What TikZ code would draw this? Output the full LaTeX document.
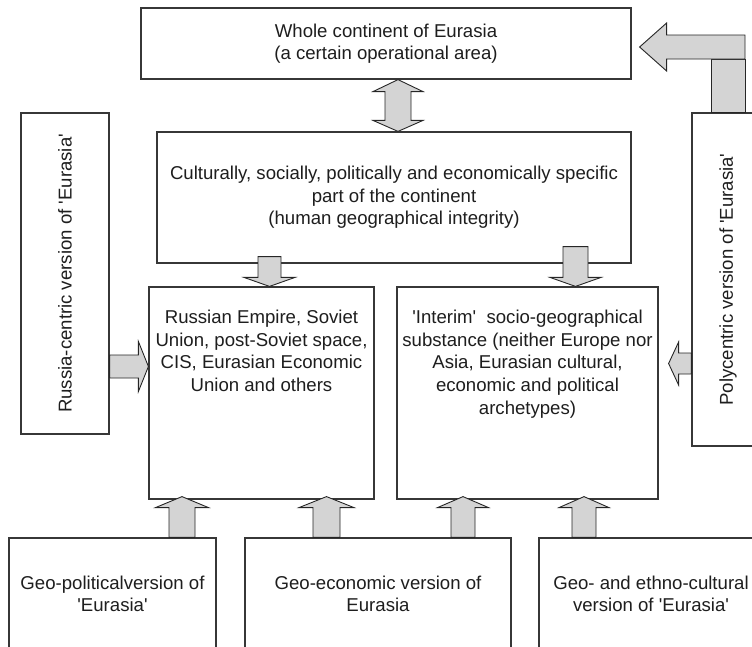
\documentclass[tikz,border=0pt]{standalone}
\usepackage{fontspec}
\setmainfont{Liberation Sans}
\usetikzlibrary{calc}
\definecolor{boxline}{RGB}{55,55,55}
\definecolor{arrfill}{RGB}{212,212,212}
\definecolor{txt}{RGB}{30,30,30}
\newcommand\sq{\textquotesingle}
\tikzset{
  box/.style={draw=boxline, line width=1.2pt, fill=white, rectangle, inner sep=0pt,
    font=\fontsize{18.6}{22.6}\selectfont, text=txt, align=center},
  lbl/.style={font=\fontsize{18.6}{22.6}\selectfont, text=txt, align=center, inner sep=0pt},
  blk/.style={fill=arrfill, draw=black!85, line width=0.9pt, line join=miter},
}
% vertical block arrow: #1 x centre (pt), #2 start anchor, #3 start shift back (pt),
% #4 tip anchor, #5 tip shift forward (pt), #6 shaft half, #7 head half, #8 head length, #9 direction (+1 up, -1 down)
\newcommand\vblk[9]{%
  \path[blk] let \p1=(#2), \p2=(#4) in
    ({#1pt-#6pt},{\y1-(#9)*#3pt}) -- ({#1pt-#6pt},{\y2+(#9)*#5pt-(#9)*#8pt})
    -- ({#1pt-#7pt},{\y2+(#9)*#5pt-(#9)*#8pt}) -- (#1pt,{\y2+(#9)*#5pt})
    -- ({#1pt+#7pt},{\y2+(#9)*#5pt-(#9)*#8pt}) -- ({#1pt+#6pt},{\y2+(#9)*#5pt-(#9)*#8pt})
    -- ({#1pt+#6pt},{\y1-(#9)*#3pt}) -- cycle;}
% horizontal block arrow: #1 y centre (pt, negative down), #2 start anchor, #3 tip anchor,
% #4 tip shift forward, #5 shaft half, #6 head half, #7 head length, #8 direction (+1 right, -1 left)
\newcommand\hblk[8]{%
  \path[blk] let \p1=(#2), \p2=(#3) in
    (\x1,{#1pt-#5pt}) -- ({\x2+(#8)*#4pt-(#8)*#7pt},{#1pt-#5pt})
    -- ({\x2+(#8)*#4pt-(#8)*#7pt},{#1pt-#6pt}) -- ({\x2+(#8)*#4pt},#1pt)
    -- ({\x2+(#8)*#4pt-(#8)*#7pt},{#1pt+#6pt}) -- ({\x2+(#8)*#4pt-(#8)*#7pt},{#1pt+#5pt})
    -- (\x1,{#1pt+#5pt}) -- cycle;}
\begin{document}
\begin{tikzpicture}[x=1pt,y=-1pt]
\useasboundingbox (0,0) rectangle (752,646);
\clip (0,0) rectangle (752,646);

% boxes
\node[box, minimum width=490pt, minimum height=71pt] (top) at (386,43.5)
  {Whole continent of Eurasia\\(a certain operational area)};
\node[box, minimum width=474pt, minimum height=131pt] (mid) at (394,197.5)
  {Culturally, socially, politically and economically specific\\part of the continent\\(human geographical integrity)};
\node[box, minimum width=88pt, minimum height=321pt] (rc) at (65,273.5) {};
\node[lbl, rotate=90] (rct) at (rc.center) {Russia-centric version of \sq Eurasia\sq};
\node[box, minimum width=72pt, minimum height=333pt] (poly) at (728,279.5) {};
\node[lbl, rotate=90] (polyt) at (poly.center) {Polycentric version of \sq Eurasia\sq};
\node[box, minimum width=225pt, minimum height=212pt] (rus) at (261.5,393) {};
\node[lbl, anchor=north] (rust) at (261.5,310)
  {Russian Empire, Soviet\\Union, post-Soviet space,\\CIS, Eurasian Economic\\Union and others};
\node[box, minimum width=261pt, minimum height=212pt] (int) at (527.5,393) {};
\node[lbl, anchor=north] (intt) at (527.5,310)
  {\sq Interim\sq\ \ socio-geographical\\substance (neither Europe nor\\Asia, Eurasian cultural,\\economic and political\\archetypes)};
\node[box, minimum width=207pt, minimum height=112pt] (b1) at (112.5,594)
  {Geo-politicalversion of\\\sq Eurasia\sq};
\node[box, minimum width=266pt, minimum height=112pt] (b2) at (378,594)
  {Geo-economic version of\\Eurasia};
\node[box, minimum width=224pt, minimum height=112pt] (b3) at (651,594)
  {Geo- and ethno-cultural\\version of \sq Eurasia\sq};

% double arrow top <-> mid
\path[blk] let \p1=(top.south), \p2=(mid.north) in
  (385pt,{\y1-12pt}) -- (373pt,{\y1-12pt}) -- (398pt,\y1) -- (423pt,{\y1-12pt})
  -- (411pt,{\y1-12pt}) -- (411pt,{\y2+11pt}) -- (423pt,{\y2+11pt}) -- (398pt,\y2)
  -- (373pt,{\y2+11pt}) -- (385pt,{\y2+11pt}) -- cycle;

% down arrows mid -> rus / int
\vblk{269.5}{mid.south}{7}{rus.north}{0}{11.5}{25.5}{9}{-1}
\vblk{575.5}{mid.south}{17}{int.north}{0}{12.5}{25.5}{9}{-1}

% up arrows from bottom boxes
\vblk{182}{b1.north}{0}{rus.south}{3}{13}{26.5}{11}{1}
\vblk{326.5}{b2.north}{0}{rus.south}{3}{13.5}{27.5}{11}{1}
\vblk{463}{b2.north}{0}{int.south}{3}{12}{25.5}{11}{1}
\vblk{584}{b3.north}{0}{int.south}{3}{12}{25}{11}{1}

% horizontal arrows
\hblk{-366.5}{rc.east}{rus.west}{0}{11.5}{25}{10}{1}
\hblk{-363.5}{poly.west}{int.east}{-10}{10.5}{21.5}{10}{-1}

% L-shaped arrow poly -> top
\path[blk] let \p1=(poly.north) in (711pt,-59pt) rectangle (745pt,\y1);
\path[blk] let \p1=(top.east) in
  ({\x1+8pt},-47pt) -- ({\x1+35pt},-23pt) -- ({\x1+35pt},-35pt) -- (745pt,-35pt)
  -- (745pt,-59pt) -- ({\x1+35pt},-59pt) -- ({\x1+35pt},-71pt) -- cycle;
\end{tikzpicture}
\end{document}
